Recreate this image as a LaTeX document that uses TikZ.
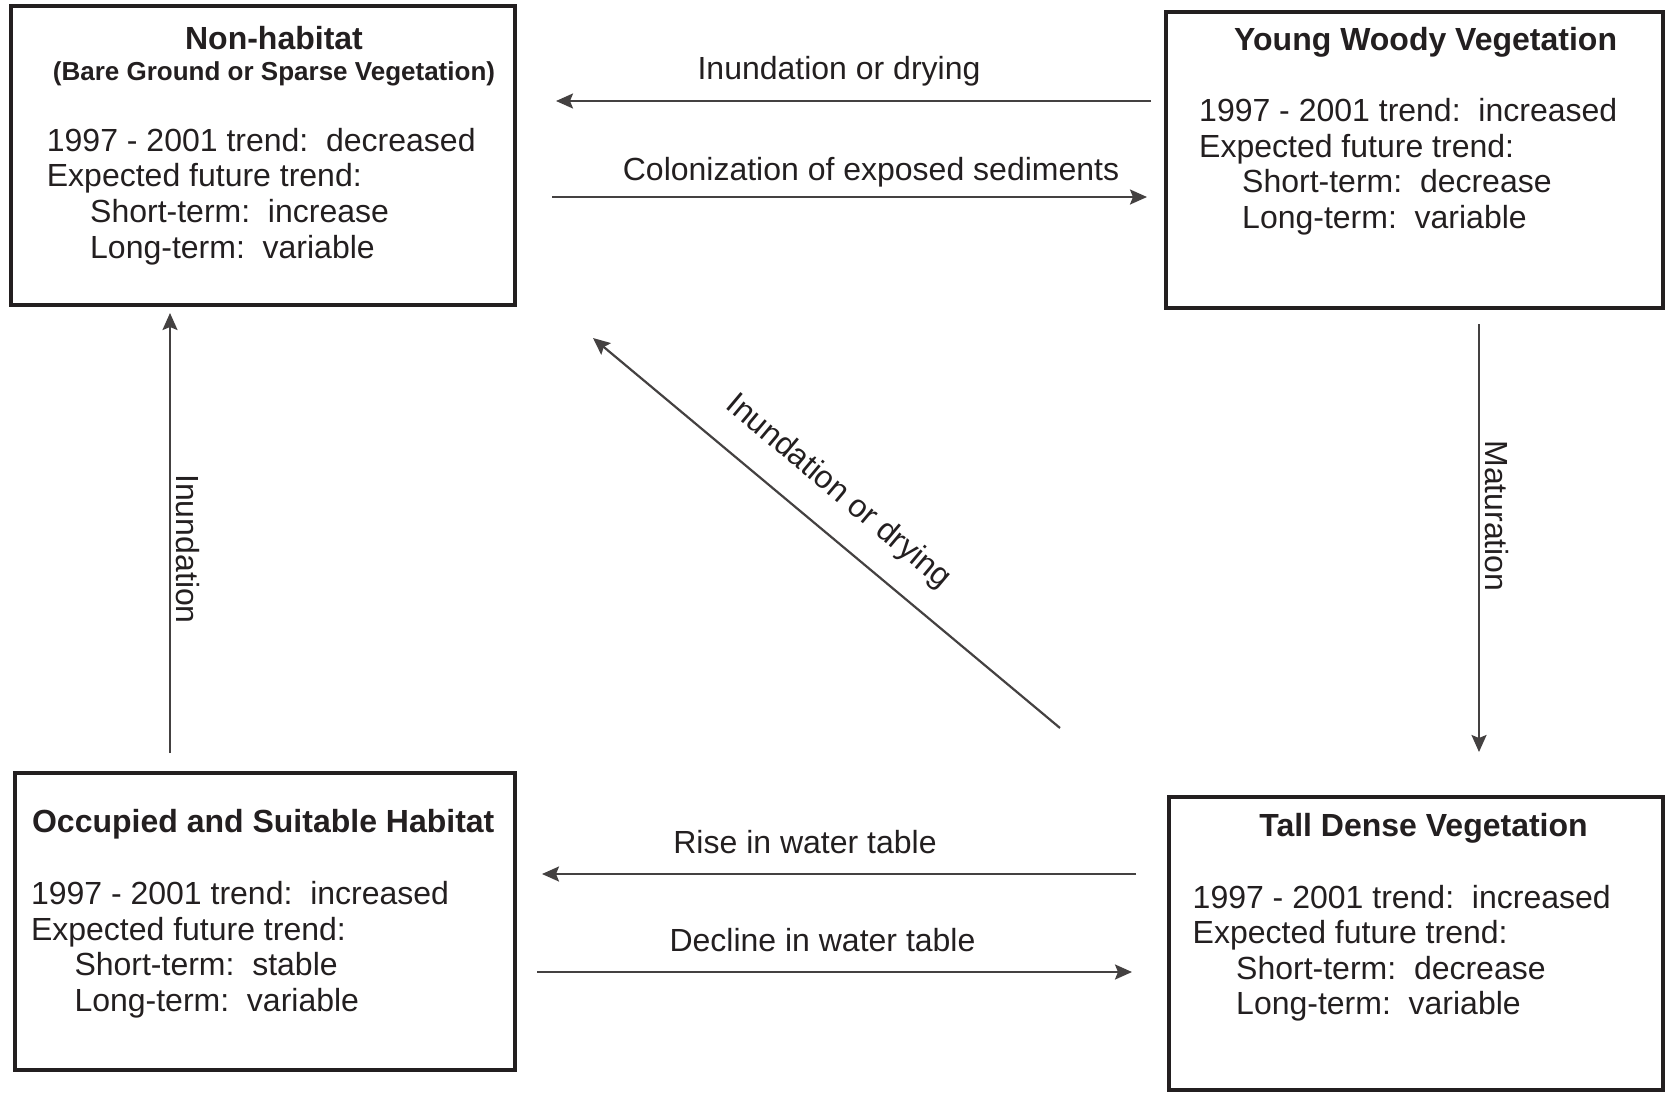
\documentclass[tikz,border=0pt]{standalone}
\usepackage{fontspec}
\setmainfont{Liberation Sans}
\usetikzlibrary{arrows.meta}
\definecolor{ink}{HTML}{231F20}
\begin{document}
\begin{tikzpicture}[x=1pt,y=-1pt,
  box/.style={draw=ink, line width=4pt, inner sep=0pt, outer sep=0pt, minimum width=#1},
  txt/.style={text=ink, font=\fontsize{32}{36}\selectfont, inner sep=0pt, anchor=base west},
  ttl/.style={text=ink, font=\bfseries\fontsize{32}{36}\selectfont, inner sep=0pt, anchor=base},
  subt/.style={text=ink, font=\bfseries\fontsize{26}{30}\selectfont, inner sep=0pt, anchor=base},
  lbl/.style={text=ink, font=\fontsize{32}{36}\selectfont, inner sep=0pt},
  arr/.style={draw=ink!85, line width=2.2pt, -{Stealth[length=17pt,width=15pt,inset=3pt]}}]
\useasboundingbox (0,0) rectangle (1665,1093);
% boxes
\node[box=504pt, minimum height=299pt] (nh) at (263,155.5) {};
\node[box=497pt, minimum height=296pt] (yw) at (1414.5,160) {};
\node[box=500pt, minimum height=297pt] (oh) at (265,921.5) {};
\node[box=494pt, minimum height=293pt] (td) at (1416,943.5) {};
% box 1 text
\node[ttl] (nh1) at (274,49) {Non-habitat};
\node[subt] (nh2) at (274,80) {(Bare Ground or Sparse Vegetation)};
\node[txt] (nh3) at (46.7,151) {1997 - 2001 trend:\ \ decreased};
\node[txt] (nh4) at (46.7,186.5) {Expected future trend:};
\node[txt] (nh5) at (90,222) {Short-term:\ \ increase};
\node[txt] (nh6) at (90,258) {Long-term:\ \ variable};
% box 2 text
\node[ttl] (yw1) at (1425.6,50.7) {Young Woody Vegetation};
\node[txt] (yw3) at (1199,121.7) {1997 - 2001 trend:\ \ increased};
\node[txt] (yw4) at (1199,157) {Expected future trend:};
\node[txt] (yw5) at (1242,192.7) {Short-term:\ \ decrease};
\node[txt] (yw6) at (1242,228.3) {Long-term:\ \ variable};
% box 3 text
\node[ttl, anchor=base west] (oh1) at (31.9,832.7) {Occupied and Suitable Habitat};
\node[txt] (oh3) at (30.8,904) {1997 - 2001 trend:\ \ increased};
\node[txt] (oh4) at (30.8,940) {Expected future trend:};
\node[txt] (oh5) at (74.3,975.5) {Short-term:\ \ stable};
\node[txt] (oh6) at (74.3,1011) {Long-term:\ \ variable};
% box 4 text
\node[ttl] (td1) at (1423.5,836) {Tall Dense Vegetation};
\node[txt] (td3) at (1192.5,908.3) {1997 - 2001 trend:\ \ increased};
\node[txt] (td4) at (1192.5,943.5) {Expected future trend:};
\node[txt] (td5) at (1236,979) {Short-term:\ \ decrease};
\node[txt] (td6) at (1236,1014) {Long-term:\ \ variable};
% arrow end points
\coordinate (a1s) at (1151,101); \coordinate (a1e) at (556,101);
\coordinate (a2s) at (552,197);  \coordinate (a2e) at (1147,197);
\coordinate (a3s) at (1479,324); \coordinate (a3e) at (1479,752);
\coordinate (a4s) at (1136,874); \coordinate (a4e) at (542,874);
\coordinate (a5s) at (537,972);  \coordinate (a5e) at (1132,972);
\coordinate (a6s) at (170,753);  \coordinate (a6e) at (170,313);
\coordinate (a7s) at (1060,728); \coordinate (a7e) at (593,338);
\draw[arr] (a1s) -- (a1e);
\draw[arr] (a2s) -- (a2e);
\draw[arr] (a3s) -- (a3e);
\draw[arr] (a4s) -- (a4e);
\draw[arr] (a5s) -- (a5e);
\draw[arr] (a6s) -- (a6e);
\draw[arr] (a7s) -- (a7e);
% arrow labels
\node[lbl, anchor=base] (l1) at (839,79) {Inundation or drying};
\node[lbl, anchor=base] (l2) at (871,180) {Colonization of exposed sediments};
\node[lbl, anchor=base] (l4) at (805,853) {Rise in water table};
\node[lbl, anchor=base] (l5) at (822.5,951) {Decline in water table};
\node[lbl, rotate=-90] (l3) at (1497,516) {Maturation};
\node[lbl, rotate=-90] (l6) at (188,549) {Inundation};
\node[lbl, rotate=-40] (l7) at (838,492) {Inundation or drying};
\end{tikzpicture}
\end{document}
